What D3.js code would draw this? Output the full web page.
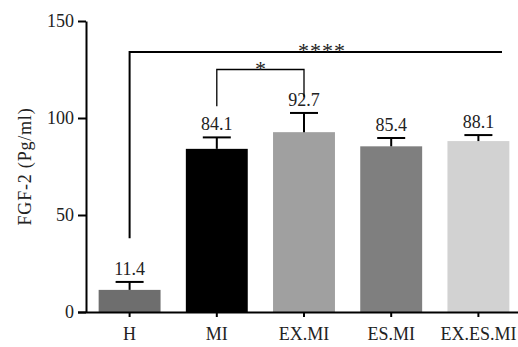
<html>
<meta charset="utf-8">
<head>
<script src="https://d3js.org/d3.v7.min.js"></script>
</head>
<body style="margin:0; background-color:#ffffff">
<div id="chart"></div>
<script>

var groups = ["H", "MI", "EX.MI", "ES.MI", "EX.ES.MI"];
var means = [11.4, 84.1, 92.7, 85.4, 88.1];
var sems = [4.1, 5.9, 9.9, 4.3, 3.1];
var colors = ["#6e6e6e", "#000000", "#a0a0a0", "#7f7f7f", "#d2d2d2"];
var yTicks = [0, 50, 100, 150];

// significance brackets (heights in data units)
var bigBracket = {from: "H", to: "EX.ES.MI", at: 134, legFrom: 38, label: "****"};
var smallBracket = {from: "MI", to: "EX.MI", at: 125, legFrom: 106, legTo: 111, label: "*"};

var serif = "Liberation Serif";
var width = 518, height = 347;
var svg = d3.select("#chart").append("svg")
  .attr("width", width)
  .attr("height", height);

var x = d3.scaleBand()
  .domain(groups)
  .range([86, 522])
  .paddingInner(0.29)
  .paddingOuter(0.145);

var y = d3.scaleLinear()
  .domain([0, 150])
  .range([312, 21]);

// bars
svg.selectAll("rect.bar")
  .data(groups)
  .enter()
  .append("rect")
    .attr("class", "bar")
    .attr("x", function(d) { return x(d); })
    .attr("width", x.bandwidth())
    .attr("y", function(d, i) { return y(means[i]); })
    .attr("height", function(d, i) { return y(0) - y(means[i]); })
    .style("fill", function(d, i) { return colors[i]; });

// error bars (upper only)
var cx = function(d) { return x(d) + x.bandwidth() / 2; };
svg.selectAll("line.err")
  .data(groups)
  .enter()
  .append("line")
    .attr("x1", cx).attr("x2", cx)
    .attr("y1", function(d, i) { return y(means[i]); })
    .attr("y2", function(d, i) { return y(means[i] + sems[i]); })
    .attr("stroke", "black").attr("stroke-width", 2);
svg.selectAll("line.cap")
  .data(groups)
  .enter()
  .append("line")
    .attr("x1", function(d) { return cx(d) - 14; })
    .attr("x2", function(d) { return cx(d) + 14; })
    .attr("y1", function(d, i) { return y(means[i] + sems[i]); })
    .attr("y2", function(d, i) { return y(means[i] + sems[i]); })
    .attr("stroke", "black").attr("stroke-width", 2);

// value labels
svg.selectAll("text.val")
  .data(groups)
  .enter()
  .append("text")
    .attr("x", cx)
    .attr("y", function(d, i) { return y(means[i] + sems[i]) - 7; })
    .attr("text-anchor", "middle")
    .attr("font-family", serif)
    .attr("font-size", 18)
    .attr("fill", "#222")
    .text(function(d, i) { return means[i].toFixed(1); });

// y axis
var yAxis = svg.append("g")
  .attr("transform", "translate(86,0)")
  .call(d3.axisLeft(y).tickValues(yTicks).tickSize(8).tickPadding(4).tickSizeOuter(0));
yAxis.select(".domain").attr("stroke-width", 2);
yAxis.selectAll(".tick line").attr("stroke-width", 2);
yAxis.attr("font-family", serif).attr("font-size", 18);
yAxis.selectAll("text").attr("fill", "#222");

// x axis
var xAxis = svg.append("g")
  .attr("transform", "translate(0,312)")
  .call(d3.axisBottom(x).tickSize(5).tickPadding(10).tickSizeOuter(0));
xAxis.select(".domain").attr("d", "M78,0.5H518").attr("stroke-width", 2);
xAxis.selectAll(".tick line").attr("stroke-width", 2);
xAxis.attr("font-family", serif).attr("font-size", 18);
xAxis.selectAll("text").attr("fill", "#222");

// y axis title
svg.append("text")
  .attr("transform", "translate(31,166.5) rotate(-90)")
  .attr("text-anchor", "middle")
  .attr("font-family", serif)
  .attr("font-size", 18)
  .attr("letter-spacing", 0.8)
  .attr("fill", "#222")
  .text("FGF-2 (Pg/ml)");

// significance: ****
svg.append("path")
  .attr("d", "M" + cx(bigBracket.from) + "," + y(bigBracket.legFrom) +
             "V" + y(bigBracket.at) + "H" + 502)
  .attr("fill", "none").attr("stroke", "black").attr("stroke-width", 2);
svg.append("text")
  .attr("x", 322)
  .attr("y", y(bigBracket.at) + 6)
  .attr("text-anchor", "middle")
  .attr("font-family", serif)
  .attr("font-size", 22)
  .attr("letter-spacing", 1)
  .attr("fill", "#222")
  .text(bigBracket.label);

// significance: *
svg.append("path")
  .attr("d", "M" + cx(smallBracket.from) + "," + y(smallBracket.legFrom) +
             "V" + y(smallBracket.at) + "H" + cx(smallBracket.to) +
             "V" + y(smallBracket.legTo))
  .attr("fill", "none").attr("stroke", "black").attr("stroke-width", 1.3);
svg.append("text")
  .attr("x", (cx(smallBracket.from) + cx(smallBracket.to)) / 2)
  .attr("y", y(smallBracket.at) + 6)
  .attr("text-anchor", "middle")
  .attr("font-family", serif)
  .attr("font-size", 22)
  .attr("fill", "#222")
  .text(smallBracket.label);

</script>
</body>
</html>
